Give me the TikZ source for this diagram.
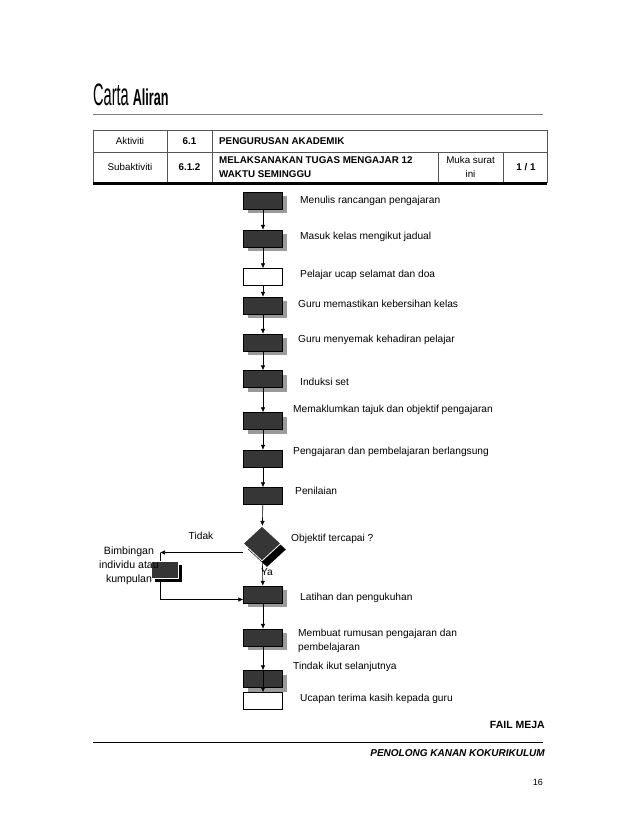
\documentclass[tikz,border=0pt]{standalone}
\usepackage{fontspec}
\setmainfont{Liberation Sans}
\usepackage{graphicx}
\usepackage{xcolor}
\definecolor{cKotak}{HTML}{363636}
\definecolor{cBayang}{HTML}{9A9A9A}
\definecolor{cGaris}{HTML}{555555}
\usepackage{tikz}
\usetikzlibrary{positioning, arrows.meta, shapes.geometric, shadows}

\begin{document}
\begin{tikzpicture}[x=1pt, y=-1pt,
    kotak/.style  = {draw=black, line width=0.4pt, fill=cKotak,
                     minimum width=39pt, minimum height=17pt, inner sep=0pt},
    kotakb/.style = {kotak, drop shadow={shadow xshift=4pt, shadow yshift=-4pt,
                     fill=cBayang, opacity=1}},
    putih/.style  = {kotak, fill=white},
    teks/.style   = {anchor=west, align=left, inner sep=0pt,
                     font=\fontsize{10.2}{14}\selectfont},
    sel/.style    = {inner sep=0pt, align=center, font=\fontsize{9.8}{14}\selectfont},
    selb/.style   = {sel, font=\fontsize{9.8}{14}\selectfont\bfseries},
    arr/.style    = {-{Latex[length=5pt, width=4.5pt]}, line width=0.6pt}
]
\useasboundingbox (0,0) rectangle (638,826);
% --- Lajur: koordinat x ---------------------------------------------------
\def\xK{263}
\def\xT{298}

% --- Tajuk ----------------------------------------------------------------
\node[anchor=base west, inner sep=0pt] (tajuk) at (93,106)
  {\scalebox{0.47}[1]{\fontsize{31}{31}\selectfont Carta}\hspace{4pt}%
   \scalebox{0.55}[1]{\fontsize{23}{23}\selectfont\bfseries Aliran}};
\draw[gray, line width=0.6pt] (93,114) -- (543,114);

% --- Jadual aktiviti --------------------------------------------------------
\draw[cGaris, line width=0.5pt] (93,130) rectangle (547,182);
\draw[cGaris, line width=0.5pt] (93,152) -- (547,152);
\draw[cGaris, line width=0.5pt] (167,130) -- (167,182);
\draw[cGaris, line width=0.5pt] (212,130) -- (212,182);
\draw[cGaris, line width=0.5pt] (438,152) -- (438,182);
\draw[cGaris, line width=0.5pt] (503,152) -- (503,182);
\draw[line width=3pt] (93,183.5) -- (547,183.5);

\node[sel]  (akt)   at (130,141)   {Aktiviti};
\node[selb] (akn)   at (189.5,141) {6.1};
\node[selb, anchor=west] (aknm) at (219,141) {PENGURUSAN AKADEMIK};
\node[sel]  (sub)   at (130,167)   {Subaktiviti};
\node[selb] (subn)  at (189.5,167) {6.1.2};
\node[selb, anchor=west, align=left] (subnm) at (219,167)
  {MELAKSANAKAN TUGAS MENGAJAR 12\\WAKTU SEMINGGU};
\node[sel]  (muka)  at (470.5,167) {Muka surat\\ini};
\node[selb] (mukan) at (526,167)   {1 / 1};

% --- Carta aliran (kotak) ---------------------------------------------------
\node[kotakb] (k1)  at (\xK,201)   {};
\node[kotakb] (k2)  at (\xK,238.5) {};
\node[putih]  (k3)  at (\xK,277)   {};
\node[kotakb] (k4)  at (\xK,305.5) {};
\node[kotakb] (k5)  at (\xK,342.5) {};
\node[kotakb] (k6)  at (\xK,379)   {};
\node[kotakb] (k7)  at (\xK,421)   {};
\node[kotak]  (k8)  at (\xK,458.5) {};
\node[kotak]  (k9)  at (\xK,496)   {};
\node[diamond, aspect=1.1, minimum width=38pt, minimum height=35pt, inner sep=0pt,
      fill=cKotak, draw=white, line width=0.8pt,
      drop shadow={shadow xshift=5pt, shadow yshift=-6pt, fill=black, opacity=1}]
      (dia) at (262,543.5) {};
\node[kotakb] (k11) at (\xK,594.5) {};
\node[kotakb] (k12) at (\xK,637.5) {};
\node[kotakb] (k13) at (\xK,679)   {};
\node[putih]  (k14) at (\xK,701)   {};

% --- Label langkah ----------------------------------------------------------
\node[teks] (t1)  at (300,201)  {Menulis rancangan pengajaran};
\node[teks] (t2)  at (300,237)  {Masuk kelas mengikut jadual};
\node[teks] (t3)  at (300,275)  {Pelajar ucap selamat dan doa};
\node[teks] (t4)  at (\xT,304)  {Guru memastikan kebersihan kelas};
\node[teks] (t5)  at (\xT,340)  {Guru menyemak kehadiran pelajar};
\node[teks] (t6)  at (300,382)  {Induksi set};
\node[teks] (t7)  at (293,410)  {Memaklumkan tajuk dan objektif pengajaran};
\node[teks] (t8)  at (293,452)  {Pengajaran dan pembelajaran berlangsung};
\node[teks] (t9)  at (295,491)  {Penilaian};
\node[teks] (tdia) at (291,539) {Objektif tercapai ?};
\node[teks] (t11) at (300,598)  {Latihan dan pengukuhan};
\node[teks] (t12) at (\xT,641)  {Membuat rumusan pengajaran dan\\pembelajaran};
\node[teks] (t13) at (293,667)  {Tindak ikut selanjutnya};
\node[teks] (t14) at (300,699)  {Ucapan terima kasih kepada guru};
\node[teks, anchor=center] (ttidak) at (201,536) {Tidak};
\node[teks, anchor=center] (tya)    at (267,572) {Ya};

% --- Anak panah --------------------------------------------------------------
\draw[arr] (k1)  -- (k2);
\draw[arr] (k2)  -- (k3);
\draw[arr] (k3)  -- (k4);
\draw[arr] (k4)  -- (k5);
\draw[arr] (k5)  -- (k6);
\draw[arr] (k6)  -- (k7);
\draw[arr] (k7)  -- (k8);
\draw[arr] (k8)  -- (k9);
\draw[arr] (k9)  -- (dia);
\draw[arr] (dia) -- (k11);
\draw[arr] (k11) -- (k12);
\draw[arr] (k12) -- (k13);
\draw[arr] (k13.north) -- (k14.north);

% cabang "Tidak": ke kiri, turun, kembali ke latihan
\coordinate (kiri) at (160,552.5);
\draw[arr] ([yshift=-9pt]dia.west) -- (kiri);
\draw[arr] (kiri) |- ([yshift=-5pt]k11.west);
\node[kotak, draw=white, minimum width=27pt,
      drop shadow={shadow xshift=4pt, shadow yshift=-4pt, fill=black, opacity=1}]
      (bimb) at (164.5,569.5) {};
\node[teks, anchor=center, align=center, font=\fontsize{10.6}{14}\selectfont]
  (tbimb) at (129,566) {Bimbingan\\individu atau\\kumpulan};

% --- Kaki halaman ------------------------------------------------------------
\node[anchor=east, inner sep=0pt, font=\fontsize{10.5}{12}\selectfont\bfseries]
  (fail) at (545,725) {FAIL MEJA};
\draw[line width=0.8pt] (93,742) -- (543,742);
\node[anchor=east, inner sep=0pt, font=\fontsize{10}{12}\selectfont\bfseries\itshape]
  (pk) at (545,753) {PENOLONG KANAN KOKURIKULUM};
\node[anchor=east, inner sep=0pt, font=\fontsize{9}{11}\selectfont]
  (hal) at (543,782) {16};
\end{tikzpicture}
\end{document}
